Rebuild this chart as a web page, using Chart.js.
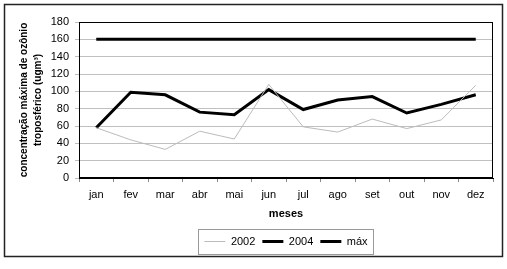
<!DOCTYPE html>
<html>
<head>
<meta charset="utf-8">
<script src="https://cdn.jsdelivr.net/npm/chart.js@4/dist/chart.umd.min.js"></script>
<style>
  html, body { margin: 0; padding: 0; background: #fff; }
  canvas { display: block; }
</style>
</head>
<body>
<canvas id="ozonio" width="507" height="269"></canvas>
<script>
// ozone chart, monthly maxima
const meses = ["jan", "fev", "mar", "abr", "mai", "jun", "jul", "ago", "set", "out", "nov", "dez"];
const serie2002 = [58, 44, 33, 54, 45, 108, 59, 53, 68, 57, 67, 107];
const serie2004 = [58, 99, 96, 76, 73, 102, 79, 90, 94, 75, 85, 96];
const serieMax = [160, 160, 160, 160, 160, 160, 160, 160, 160, 160, 160, 160];
const yTitulo = ["concentração máxima de ozônio", "troposférico (ugm³)"];
const xTitulo = "meses";

const FONT = "'Liberation Sans', Arial, sans-serif";

// white background + outer frame + plot frame + legend box
const framePlugin = {
  id: "frames",
  beforeDraw(chart) {
    const ctx = chart.ctx;
    ctx.save();
    ctx.fillStyle = "#fff";
    ctx.fillRect(0, 0, chart.width, chart.height);
    ctx.restore();
  },
  afterDraw(chart) {
    const ctx = chart.ctx;
    const a = chart.chartArea;
    ctx.save();
    ctx.strokeStyle = "#000";
    ctx.lineWidth = 1;
    ctx.strokeRect(a.left + 0.5, a.top + 0.5, a.right - a.left - 1, a.bottom - a.top - 1);

    ctx.strokeStyle = "#222";
    ctx.lineWidth = 1.5;
    ctx.strokeRect(4.5, 4.5, 498, 252);

    const hb = chart.legend.legendHitBoxes;
    if (hb && hb.length) {
      const l = Math.min(...hb.map(h => h.left)) - 6;
      const r = Math.max(...hb.map(h => h.left + h.width)) + 6;
      const t = hb[0].top - 7;
      const b = hb[0].top + hb[0].height + 7;
      ctx.strokeStyle = "#999";
      ctx.lineWidth = 1;
      ctx.strokeRect(Math.round(l) + 0.5, Math.round(t) + 0.5, Math.round(r - l), Math.round(b - t));
    }
    ctx.restore();
  }
};

new Chart(document.getElementById("ozonio"), {
  type: "line",
  data: {
    labels: meses,
    datasets: [
      { label: "2002", data: serie2002, borderColor: "#bcbcbc", backgroundColor: "#bcbcbc", borderWidth: 1 },
      { label: "2004", data: serie2004, borderColor: "#000", backgroundColor: "#000", borderWidth: 3 },
      { label: "máx", data: serieMax, borderColor: "#000", backgroundColor: "#000", borderWidth: 3 },
    ],
  },
  options: {
    responsive: false,
    animation: false,
    elements: { point: { radius: 0 }, line: { tension: 0 } },
    layout: { padding: { top: 22, left: 17, right: 14, bottom: 12 } },
    plugins: {
      tooltip: { enabled: false },
      legend: {
        position: "bottom",
        fullSize: false,
        labels: {
          usePointStyle: true,
          pointStyle: "line",
          pointStyleWidth: 21,
          padding: 7,
          color: "#000",
          font: { family: FONT, size: 11 },
        },
      },
    },
    scales: {
      x: {
        offset: true,
        afterFit(s) { s.height = 51; },
        grid: { drawOnChartArea: false, drawTicks: true, tickLength: 4, color: "#888", offset: true },
        border: { display: true, color: "#000" },
        ticks: { color: "#000", padding: 6, font: { family: FONT, size: 11 } },
        title: { display: true, text: xTitulo, color: "#000", padding: { top: 0, bottom: 8 },
                 font: { family: FONT, size: 11, weight: "bold" } },
      },
      y: {
        min: 0,
        max: 180,
        afterFit(s) { s.width = 62; },
        grid: { color: "#c0c0c0", tickLength: 4 },
        border: { display: true, color: "#000" },
        ticks: { stepSize: 20, color: "#000", padding: 6, font: { family: FONT, size: 11 } },
        title: { display: true, text: yTitulo, color: "#000", padding: 0,
                 font: { family: FONT, size: 10, weight: "bold", lineHeight: 1.4 } },
      },
    },
  },
  plugins: [framePlugin],
});
</script>
</body>
</html>
